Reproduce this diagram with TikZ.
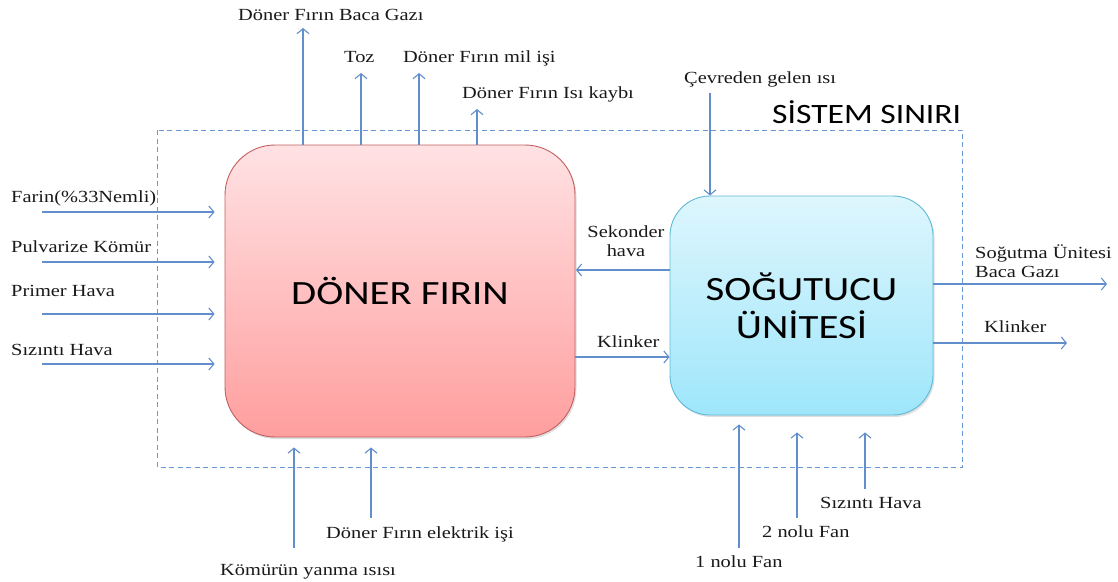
\documentclass[tikz,border=0pt]{standalone}
\usepackage{fontspec}
\setmainfont{Liberation Serif}
\newfontfamily\lblfont[FakeStretch=1.2]{Liberation Serif}
\newfontfamily\boxfont[FakeStretch=1.2]{Carlito}
\usetikzlibrary{arrows.meta,shadows}
\definecolor{flowblue}{RGB}{98,142,204}
\definecolor{bndblue}{RGB}{105,150,215}
\definecolor{kilnedge}{RGB}{195,95,95}
\definecolor{kilntop}{RGB}{255,226,228}
\definecolor{kilnbot}{RGB}{255,158,158}
\definecolor{coolEdge}{RGB}{95,185,215}
\definecolor{cooltop}{RGB}{222,246,253}
\definecolor{coolbot}{RGB}{158,230,251}
\tikzset{
  lab/.style={font=\lblfont\fontsize{17}{18.5}\selectfont, inner sep=0pt, text=black!90, anchor=base west},
  flow/.style={draw=flowblue, line width=1.2pt, -{Straight Barb[length=5pt,width=12pt,line width=1.1pt]}},
  boundary/.style={draw=bndblue, line width=1pt, dash pattern=on 5pt off 3.5pt},
  unit/.style={rounded corners=#1, inner sep=0pt, font=\boxfont\fontsize{34}{38}\selectfont, align=center, text=black,
               drop shadow={shadow xshift=1.5pt, shadow yshift=-2pt, opacity=0.25}},
}
\begin{document}
\begin{tikzpicture}[x=1pt, y=-1pt]
\useasboundingbox (0,0) rectangle (1118,581);

% system boundary
\draw[boundary] (157.5,130) rectangle (962.5,467);
\node[font=\boxfont\fontsize{28}{30}\selectfont, inner sep=0pt, anchor=base west] (sinir) at (772,123) {SİSTEM SINIRI};

% units
\node[unit=50pt, draw=kilnedge, line width=0.9pt, top color=kilntop, bottom color=kilnbot,
      minimum width=350pt, minimum height=292pt] (kiln) at (400,291) {DÖNER FIRIN};
\node[unit=40pt, draw=coolEdge, line width=0.9pt, top color=cooltop, bottom color=coolbot,
      minimum width=263pt, minimum height=219pt] (cooler) at (801.5,305.5) {SOĞUTUCU\\ÜNİTESİ};

% kiln outputs (top)
\coordinate (gasEnd) at (303,28);
\coordinate (dustEnd) at (361,73);
\coordinate (shaftEnd) at (419,73);
\coordinate (lossEnd) at (477,109);
\draw[flow] (gasEnd |- kiln.north) -- (gasEnd);
\draw[flow] (dustEnd |- kiln.north) -- (dustEnd);
\draw[flow] (shaftEnd |- kiln.north) -- (shaftEnd);
\draw[flow] (lossEnd |- kiln.north) -- (lossEnd);
\node[lab] (gasLbl) at (238,20) {Döner Fırın Baca Gazı};
\node[lab] (dustLbl) at (344,62) {Toz};
\node[lab] (shaftLbl) at (403,62) {Döner Fırın mil işi};
\node[lab] (lossLbl) at (462,98) {Döner Fırın Isı kaybı};

% kiln inputs (left)
\coordinate (farinSrc) at (42,212);
\coordinate (coalSrc) at (42,262);
\coordinate (primSrc) at (42,314);
\coordinate (leakSrc) at (42,364);
\draw[flow, shorten >=10pt] (farinSrc) -- (kiln.west |- farinSrc);
\draw[flow, shorten >=10pt] (coalSrc) -- (kiln.west |- coalSrc);
\draw[flow, shorten >=10pt] (primSrc) -- (kiln.west |- primSrc);
\draw[flow, shorten >=10pt] (leakSrc) -- (kiln.west |- leakSrc);
\node[lab] (farinLbl) at (11,202) {Farin(\%33Nemli)};
\node[lab] (coalLbl) at (11,252) {Pulvarize Kömür};
\node[lab] (primLbl) at (11,296) {Primer Hava};
\node[lab] (leakLbl) at (11,355) {Sızıntı Hava};

% kiln inputs (bottom)
\coordinate (burnSrc) at (294,548);
\coordinate (elecSrc) at (371,518);
\draw[flow, shorten >=10pt] (burnSrc) -- (burnSrc |- kiln.south);
\draw[flow, shorten >=10pt] (elecSrc) -- (elecSrc |- kiln.south);
\node[lab] (burnLbl) at (220,575) {Kömürün yanma ısısı};
\node[lab] (elecLbl) at (326,538) {Döner Fırın elektrik işi};

% kiln <-> cooler
\coordinate (secY) at (0,270);
\coordinate (clkY) at (0,357);
\draw[flow, shorten >=0.5pt] (cooler.west |- secY) -- (kiln.east |- secY);
\draw[flow] (kiln.east |- clkY) -- (cooler.west |- clkY);
\node[lab, align=center, anchor=base] (secLbl) at (626,256) {Sekonder\\hava};
\node[lab] (clkLbl) at (597,347) {Klinker};

% cooler input (top)
\coordinate (envSrc) at (710,93);
\draw[flow] (envSrc) -- (envSrc |- cooler.north);
\node[lab] (envLbl) at (684,83) {Çevreden gelen ısı};

% cooler outputs (right)
\coordinate (cgasEnd) at (1107,284);
\coordinate (cclkEnd) at (1067,343);
\draw[flow] (cooler.east |- cgasEnd) -- (cgasEnd);
\draw[flow] (cooler.east |- cclkEnd) -- (cclkEnd);
\node[lab, align=left] (cgasLbl) at (975,277) {Soğutma Ünitesi\\Baca Gazı};
\node[lab] (cclkLbl) at (984,332) {Klinker};

% cooler inputs (bottom)
\coordinate (fan1Src) at (739,548);
\coordinate (fan2Src) at (797,518);
\coordinate (cleakSrc) at (865,489);
\draw[flow, shorten >=9pt] (fan1Src) -- (fan1Src |- cooler.south);
\draw[flow, shorten >=17pt] (fan2Src) -- (fan2Src |- cooler.south);
\draw[flow, shorten >=17pt] (cleakSrc) -- (cleakSrc |- cooler.south);
\node[lab] (fan1Lbl) at (695,567) {1 nolu Fan};
\node[lab] (fan2Lbl) at (762,537) {2 nolu Fan};
\node[lab] (cleakLbl) at (820,508) {Sızıntı Hava};
\end{tikzpicture}
\end{document}
